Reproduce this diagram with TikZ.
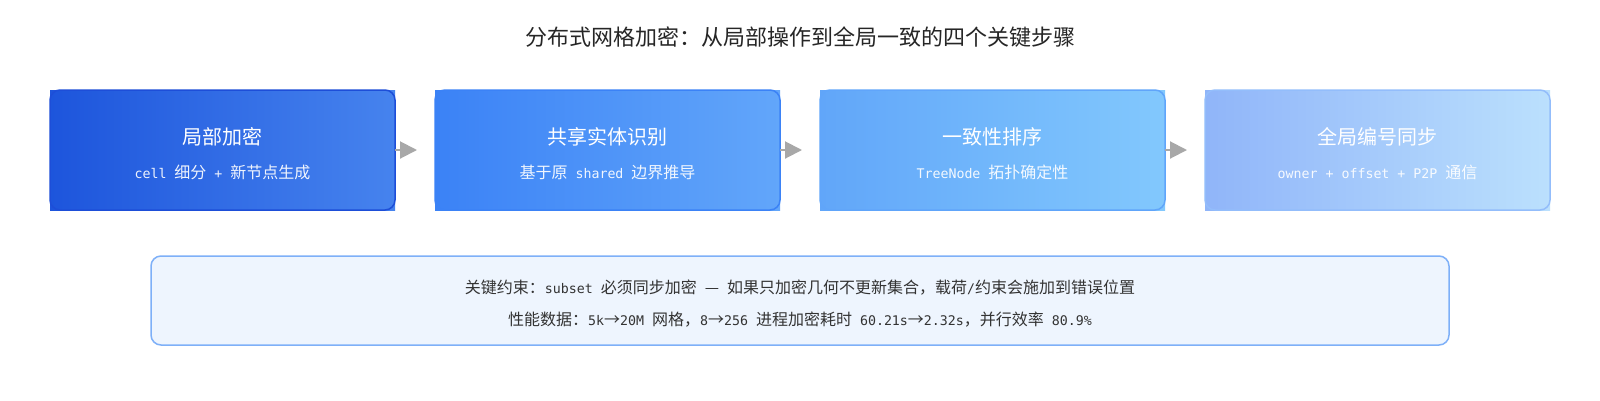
\documentclass[tikz,border=0pt]{standalone}
\usepackage{fontspec}
\setmainfont{Noto Sans CJK SC}
\newfontfamily\monof{DejaVu Sans Mono}[Scale=0.83]
\usetikzlibrary{arrows.meta}
\newcommand{\M}[1]{{\monof #1}}
\definecolor{aL}{HTML}{1D55DC}
\definecolor{aR}{HTML}{4683EE}
\definecolor{aB}{HTML}{1D4ED8}
\definecolor{bL}{HTML}{3B82F6}
\definecolor{bR}{HTML}{62A6FA}
\definecolor{bB}{HTML}{3B82F6}
\definecolor{cL}{HTML}{61A6F9}
\definecolor{cR}{HTML}{82C8FD}
\definecolor{cB}{HTML}{60A5FA}
\definecolor{dL}{HTML}{90B5F9}
\definecolor{dR}{HTML}{BBE0FD}
\definecolor{dB}{HTML}{93BDFB}
\definecolor{noteF}{HTML}{EEF5FE}
\definecolor{noteB}{HTML}{7EB0F8}
\definecolor{arrowG}{HTML}{A8A8A8}
\definecolor{txt}{HTML}{333333}
\tikzset{
  stepbox/.style={minimum width=345pt, minimum height=120pt, inner sep=0pt, outer sep=0pt, draw=none},
  stepborder/.style={line width=1.5pt, rounded corners=10pt},
  steptitle/.style={text=white, font=\fontsize{20}{24}\selectfont, inner sep=0pt},
  stepsub/.style={text=white, text opacity=0.92, font=\fontsize{16}{19}\selectfont, inner sep=0pt},
  flow/.style={draw=arrowG, line width=2pt, -{Triangle[length=17pt,width=17pt]}, shorten >=18pt},
  notetext/.style={text=txt, font=\fontsize{16}{19}\selectfont, inner sep=0pt}
}
\begin{document}
\begin{tikzpicture}[x=1pt,y=-1pt]
\useasboundingbox (0,0) rectangle (1600,400);
\fill[white] (0,0) rectangle (1600,400);
\node[text=black!85, font=\fontsize{22}{26}\selectfont, inner sep=0pt] (title) at (800,37) {分布式网格加密：从局部操作到全局一致的四个关键步骤};

\node[stepbox, left color=aL, right color=aR] (s1) at (222.5,150) {};
\node[stepbox, left color=bL, right color=bR] (s2) at (607.5,150) {};
\node[stepbox, left color=cL, right color=cR] (s3) at (992.5,150) {};
\node[stepbox, left color=dL, right color=dR] (s4) at (1377.5,150) {};
\draw[stepborder, draw=aB] (s1.north west) rectangle (s1.south east);
\draw[stepborder, draw=bB] (s2.north west) rectangle (s2.south east);
\draw[stepborder, draw=cB] (s3.north west) rectangle (s3.south east);
\draw[stepborder, draw=dB] (s4.north west) rectangle (s4.south east);

\node[steptitle] (t1) at (222.5,137) {局部加密};
\node[stepsub] (u1) at (222.5,172.5) {\M{cell }细分\M{ + }新节点生成};
\node[steptitle] (t2) at (607.5,137) {共享实体识别};
\node[stepsub] (u2) at (607.5,172.5) {基于原\M{ shared }边界推导};
\node[steptitle] (t3) at (992.5,137) {一致性排序};
\node[stepsub] (u3) at (992.5,172.5) {\M{TreeNode }拓扑确定性};
\node[steptitle] (t4) at (1377.5,137) {全局编号同步};
\node[stepsub] (u4) at (1377.5,172.5) {\M{owner + offset + P2P }通信};

\draw[flow] (s1.east) -- (s2.west);
\draw[flow] (s2.east) -- (s3.west);
\draw[flow] (s3.east) -- (s4.west);

\node[draw=noteB, fill=noteF, line width=1.5pt, rounded corners=10pt, minimum width=1298pt, minimum height=89pt, inner sep=0pt] (note) at (800,300.5) {};
\node[notetext] (n1) at (800,287.5) {关键约束：\M{subset }必须同步加密\M{ }—\M{ }如果只加密几何不更新集合，载荷\M{/}约束会施加到错误位置};
\node[notetext] (n2) at (800,320) {性能数据：\M{5k}→\M{20M }网格，\M{8}→\M{256 }进程加密耗时\M{ 60.21s}→\M{2.32s}，并行效率\M{ 80.9\%}};
\end{tikzpicture}
\end{document}
